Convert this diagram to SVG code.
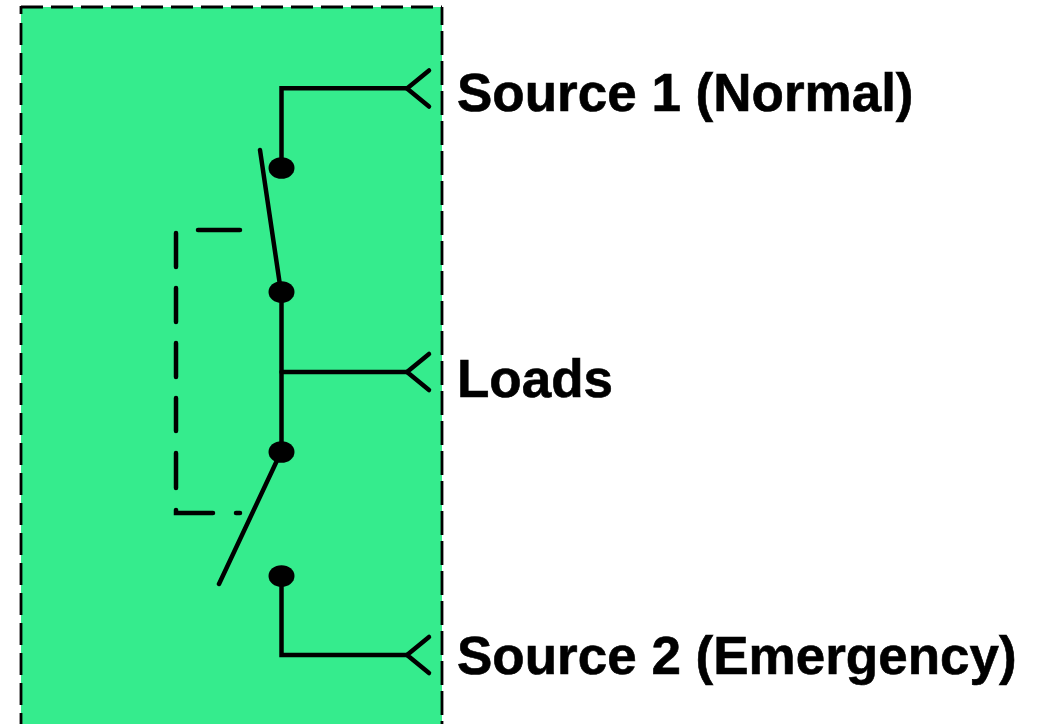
<svg xmlns="http://www.w3.org/2000/svg" width="1043" height="724" viewBox="0 0 1043 724">
<style>
.w{fill:none;stroke:#000;stroke-width:4.500;stroke-linecap:round;stroke-linejoin:miter}
.b{fill:none;stroke:#000;stroke-width:2.800}
.t{font-family:"Liberation Sans",Arial,sans-serif;font-weight:700;font-size:53px;fill:#000;stroke:#000;stroke-width:0.600}
.d{fill:#000}
</style>
<defs><path id="fork" class="w" d="M429,-18L407,0L429,18"/></defs>
<g id="panel"><path d="M21,7H442V724H21Z" fill="#35ec8d" stroke="none"/>
<path class="b" d="M21,7H442" stroke-dasharray="22 8"/>
<path class="b" d="M442,7V724" stroke-dasharray="24 6" stroke-dashoffset="6"/>
<path class="b" d="M21,6V14M21,23V724" stroke-dasharray="22 8"/></g>
<g id="connectors">
<path class="w" d="M407,88.300H281.500V168"/>
<path class="w" d="M281.500,292V452" stroke-width="5"/>
<path class="w" d="M281.500,372H407"/>
<path class="w" d="M281.500,576V655H407"/>
<path class="w" d="M260,150L281,292" stroke-width="5"/>
<path class="w" d="M281,452L219,584" stroke-width="5"/>
<path class="w" d="M240,230H198M176,233V267M176,288V322M176,343V377M176,398V431M176,453V488M176,510V513H213M236,513H240"/>
</g>
<g id="terminal-1"><use href="#fork" y="88.500"/><text class="t" x="457" y="110.500">Source 1 (Normal)</text></g>
<g id="terminal-loads"><use href="#fork" y="372"/><text class="t" x="457" y="396.500">Loads</text></g>
<g id="terminal-2"><use href="#fork" y="655"/><text class="t" x="457" y="673.500">Source 2 (Emergency)</text></g>
<g id="contact-1"><ellipse class="d" cx="281.500" cy="168" rx="13" ry="10.800"/></g>
<g id="contact-2"><ellipse class="d" cx="281.500" cy="292" rx="13" ry="10.800"/></g>
<g id="contact-3"><ellipse class="d" cx="281.500" cy="452" rx="13" ry="10.800"/></g>
<g id="contact-4"><ellipse class="d" cx="281.500" cy="576" rx="13" ry="10.800"/></g>
</svg>
